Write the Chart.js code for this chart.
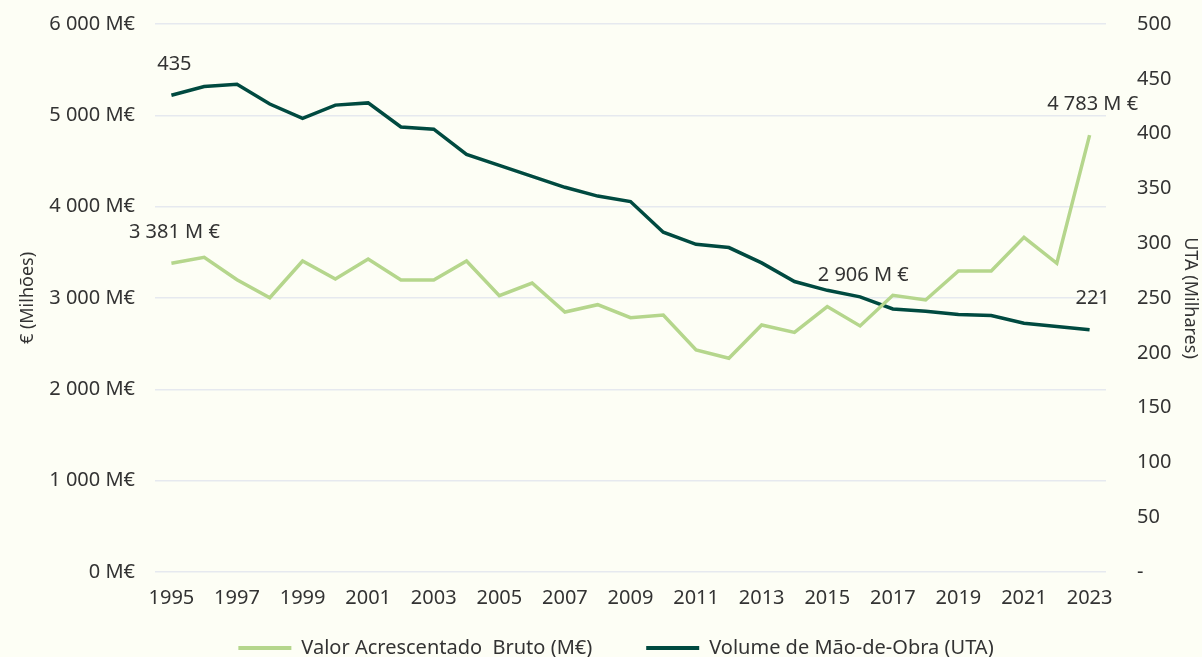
<!DOCTYPE html>
<html lang="pt">
<head>
<meta charset="utf-8">
<title>VAB e Volume de Mão-de-Obra</title>
<script src="https://cdn.jsdelivr.net/npm/chart.js@4"></script>
<style>
  html, body { margin: 0; padding: 0; background: #fdfef5; overflow: hidden; }
</style>
</head>
<body>
<canvas id="vabChart" width="1202" height="668"></canvas>
<script>
/* ---------------------------------- Data ---------------------------------- */
const years = [
  "1995", "1996", "1997", "1998", "1999", "2000", "2001", "2002", "2003", "2004",
  "2005", "2006", "2007", "2008", "2009", "2010", "2011", "2012", "2013", "2014",
  "2015", "2016", "2017", "2018", "2019", "2020", "2021", "2022", "2023",
];

// Valor Acrescentado Bruto, M€
const vab = [
  3381, 3446, 3200, 3003, 3405, 3208, 3427, 3197, 3197, 3405,
  3025, 3164, 2847, 2927, 2785, 2814, 2431, 2340, 2704, 2624,
  2906, 2694, 3030, 2978, 3296, 3296, 3665, 3380, 4783,
];

// Volume de Mão-de-Obra, milhares de UTA
const uta = [
  435, 443, 445, 427, 414, 426, 428, 406, 404, 381,
  371, 361, 351, 343, 338, 310, 299, 296, 282, 265,
  257, 251, 240, 238, 235, 234, 227, 224, 221,
];

const vabLabelIdx = [0, 20, 28];
const utaLabelIdx = [0, 28];

/* --------------------------------- Helpers -------------------------------- */
const FONT = "'Noto Sans', sans-serif";
const TEXT = "#333333";
const GREEN = "#b5d68c";
const DARK = "#004a40";

const groupThousands = (n) =>
  String(Math.round(n)).replace(/\B(?=(\d{3})+(?!\d))/g, " ");

/* ------------------------------ Point labels ------------------------------ */
// the 2015 label sits a little to the right of its point in the original
const labelNudge = { "0-20": 36 };

const pointLabels = {
  id: "pointLabels",
  afterDatasetsDraw(chart) {
    const { ctx } = chart;
    const draw = (dsIndex, indices, fmt) => {
      const meta = chart.getDatasetMeta(dsIndex);
      indices.forEach((i) => {
        const pt = meta.data[i];
        const dx = labelNudge[`${dsIndex}-${i}`] || 3;
        ctx.fillText(fmt(chart.data.datasets[dsIndex].data[i]), pt.x + dx, pt.y - 31);
      });
    };
    ctx.save();
    ctx.font = `20px ${FONT}`;
    ctx.fillStyle = TEXT;
    ctx.textAlign = "center";
    ctx.textBaseline = "middle";
    draw(0, vabLabelIdx, (v) => `${groupThousands(v)} M €`);
    draw(1, utaLabelIdx, (v) => groupThousands(v));
    ctx.restore();
  },
};

/* ---------------------------------- Chart --------------------------------- */
const ctx = document.getElementById("vabChart").getContext("2d");

// invisible tick marks are used as spacing between axis and labels,
// so the label padding doesn't leak into the chart area's top offset
const hiddenTicks = (len) => ({
  display: true,
  drawOnChartArea: false,
  drawTicks: true,
  tickLength: len,
  tickColor: "rgba(0,0,0,0)",
});

new Chart(ctx, {
  type: "line",
  data: {
    labels: years,
    datasets: [
      {
        label: "Valor Acrescentado  Bruto (M€)",
        data: vab,
        yAxisID: "y",
        borderColor: GREEN,
        backgroundColor: GREEN,
        borderWidth: 3.5,
        pointRadius: 0,
        tension: 0,
      },
      {
        label: "Volume de Mão-de-Obra (UTA)",
        data: uta,
        yAxisID: "y1",
        borderColor: DARK,
        backgroundColor: DARK,
        borderWidth: 3.5,
        pointRadius: 0,
        tension: 0,
      },
    ],
  },
  options: {
    responsive: false,
    animation: false,
    layout: { padding: { top: 24, left: 30, right: 0, bottom: 0 } },
    plugins: {
      legend: {
        position: "bottom",
        labels: {
          color: TEXT,
          font: { family: FONT, size: 20 },
          boxWidth: 53,
          boxHeight: 4,
          padding: 28,
          generateLabels(chart) {
            const items = Chart.defaults.plugins.legend.labels.generateLabels(chart);
            items.forEach((it, i) => {
              it.lineWidth = 0;
              it.fillStyle = it.strokeStyle;
              // a bit more room between the two entries
              if (i < items.length - 1) it.text += "     ";
            });
            return items;
          },
        },
      },
      tooltip: { enabled: false },
    },
    scales: {
      x: {
        offset: true,
        grid: hiddenTicks(14),
        border: { display: false },
        ticks: {
          color: TEXT,
          font: { family: FONT, size: 20 },
          padding: 0,
          autoSkip: false,
          maxRotation: 0,
          callback(value, index) {
            return index % 2 === 0 ? this.getLabelForValue(value) : "";
          },
        },
      },
      y: {
        position: "left",
        min: 0,
        max: 6000,
        grid: {
          color: "#e6e9ef",
          lineWidth: 1.5,
          drawTicks: true,
          tickLength: 20,
          tickColor: "rgba(0,0,0,0)",
        },
        border: { display: false },
        ticks: {
          stepSize: 1000,
          color: TEXT,
          font: { family: FONT, size: 20 },
          padding: 0,
          callback: (v) => `${groupThousands(v)} M€`,
        },
        title: {
          display: true,
          text: "€ (Milhões)",
          color: TEXT,
          font: { family: FONT, size: 18 },
          padding: { top: -13, bottom: 0 },
        },
        afterFit(scale) {
          scale.width = 125;
        },
      },
      y1: {
        position: "right",
        min: 0,
        max: 500,
        grid: hiddenTicks(31),
        border: { display: false },
        ticks: {
          stepSize: 50,
          color: TEXT,
          font: { family: FONT, size: 20 },
          padding: 0,
          callback: (v) => (v === 0 ? "-" : String(v)),
        },
        title: {
          display: true,
          text: "UTA (Milhares)",
          color: TEXT,
          font: { family: FONT, size: 18 },
          padding: { top: 1, bottom: 0 },
        },
        afterFit(scale) {
          scale.width = 96;
        },
      },
    },
  },
  plugins: [pointLabels],
});
</script>
</body>
</html>
